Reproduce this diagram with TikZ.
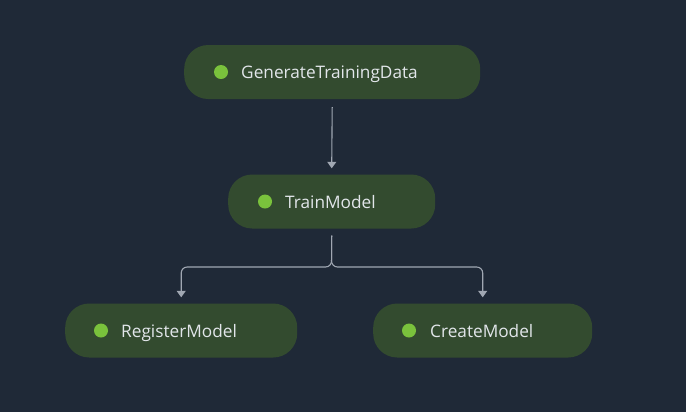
\documentclass[tikz,border=0pt]{standalone}
\usepackage{fontspec}
\setmainfont{Open Sans}
\usetikzlibrary{arrows.meta,calc}
\definecolor{bg}{RGB}{31,41,55}
\definecolor{nodefill}{RGB}{51,75,47}
\definecolor{dotgreen}{RGB}{122,194,60}
\definecolor{txt}{RGB}{226,230,234}
\definecolor{edge}{RGB}{160,167,178}
\tikzset{
  stepnode/.style={fill=nodefill, rounded corners=24bp, minimum height=54bp, inner sep=0pt, anchor=west},
  dot/.style={circle, fill=dotgreen, minimum size=14bp, inner sep=0pt},
  lbl/.style={text=txt, font=\fontsize{17.3}{20}\selectfont, anchor=base west, inner sep=0pt},
  conn/.style={draw=edge, line width=1.1bp, -{Triangle[width=9bp,length=6.5bp]}, rounded corners=6bp}
}
\begin{document}
\begin{tikzpicture}[x=1bp,y=-1bp]
\fill[bg] (0,0) rectangle (686,412);
\useasboundingbox (0,0) rectangle (686,412);
% nodes
\node[stepnode, minimum width=296bp] (gen) at (184,72) {};
\node[stepnode, minimum width=207bp] (train) at (228,201.5) {};
\node[stepnode, minimum width=232bp] (reg) at (65,330.5) {};
\node[stepnode, minimum width=219bp] (create) at (373,330.5) {};
% dots and labels
\node[dot] (gend) at ([xshift=37bp]gen.west) {};
\node[lbl] (genl) at ([xshift=57bp,yshift=-6.5bp]gen.west) {GenerateTrainingData};
\node[dot] (traind) at ([xshift=37bp]train.west) {};
\node[lbl] (trainl) at ([xshift=57bp,yshift=-6.5bp]train.west) {TrainModel};
\node[dot] (regd) at ([xshift=36bp]reg.west) {};
\node[lbl] (regl) at ([xshift=56bp,yshift=-6.5bp]reg.west) {RegisterModel};
\node[dot] (created) at ([xshift=36bp]create.west) {};
\node[lbl] (createl) at ([xshift=57bp,yshift=-6.5bp]create.west) {CreateModel};
% connectors
\draw[conn] ([yshift=-8bp]gen.south) -- ([yshift=6bp]train.north);
\coordinate (j) at (331.5,267);
\draw[conn] ([yshift=-7bp]train.south) -- (j) -| ([yshift=6bp]reg.north);
\draw[conn] ([yshift=-7bp]train.south) -- (j) -| ([yshift=6bp]create.north);
\end{tikzpicture}
\end{document}
